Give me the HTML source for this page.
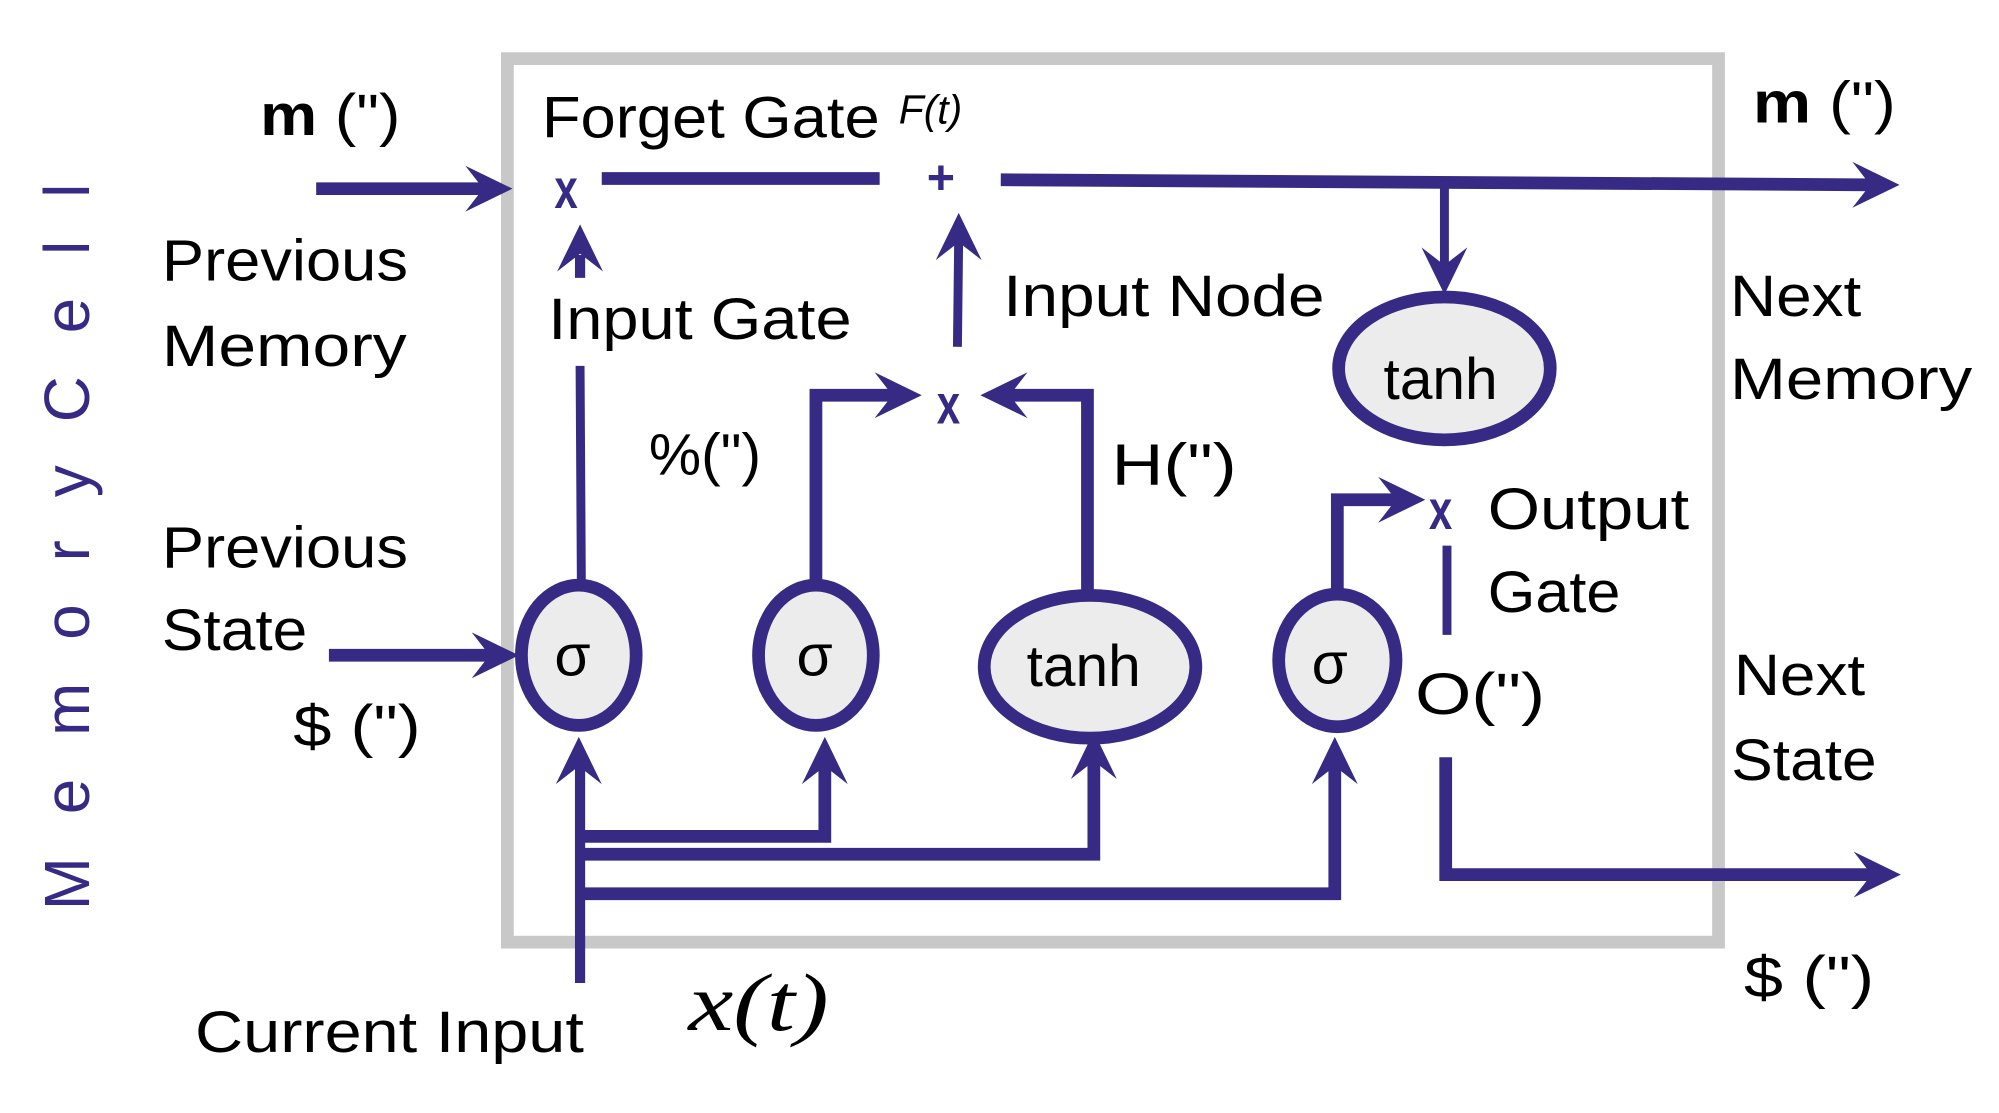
<!DOCTYPE html>
<html><head><meta charset="utf-8"><style>
html,body{margin:0;padding:0;background:#fff;}
svg{display:block;}
text{font-family:"Liberation Sans",sans-serif;fill:#000;}
</style></head><body>
<svg width="1999" height="1113" viewBox="0 0 1568 873" preserveAspectRatio="none" xmlns="http://www.w3.org/2000/svg">
<defs>
<path id="ah" d="M0,0 L-37,-18 L-23,0 L-37,18 Z" fill="#372a85"/>
</defs>
<rect width="1568" height="873" fill="#fff"/>
<rect x="398" y="46" width="950" height="693" fill="none" stroke="#c8c8c8" stroke-width="10"/>

<text transform="translate(70,714) rotate(-90)" font-size="50" style="fill:#372a85" textLength="570" lengthAdjust="spacing">M e m o r y   C e l l</text>

<g stroke="#372a85" fill="none" stroke-width="10">
<line x1="248" y1="148" x2="385" y2="148"/>
<line x1="472" y1="140" x2="690" y2="140"/>
<line x1="785" y1="141" x2="1470" y2="145"/>
<line x1="1133" y1="143" x2="1133" y2="210" stroke-width="7"/>
<line x1="455" y1="200" x2="455" y2="218" stroke-width="8"/>
<line x1="455" y1="287" x2="456" y2="456" stroke-width="7"/>
<line x1="752" y1="185" x2="751" y2="272" stroke-width="7"/>
<polyline points="640,456 640,310 705,310"/>
<polyline points="853,465 853,310 788,310"/>
<polyline points="1049,462 1049,392 1100,392"/>
<line x1="1135" y1="428" x2="1135" y2="498" stroke-width="7"/>
<polyline points="1134,594 1134,686 1470,686"/>
<line x1="258" y1="514" x2="390" y2="514"/>
<line x1="455" y1="771" x2="455" y2="600" stroke-width="8"/>
<polyline points="455,656 647,656 647,595"/>
<polyline points="455,670 858,670 858,595"/>
<polyline points="455,701 1047,701 1047,595"/>
</g>

<use href="#ah" transform="translate(402,148)"/>
<use href="#ah" transform="translate(1490,145)"/>
<use href="#ah" transform="translate(1133,231) rotate(90)"/>
<use href="#ah" transform="translate(455,176) rotate(-90)"/>
<use href="#ah" transform="translate(752,167) rotate(-90)"/>
<use href="#ah" transform="translate(723,310)"/>
<use href="#ah" transform="translate(769,310) rotate(180)"/>
<use href="#ah" transform="translate(1118,392)"/>
<use href="#ah" transform="translate(1491,686)"/>
<use href="#ah" transform="translate(407,514)"/>
<use href="#ah" transform="translate(454,578) rotate(-90)"/>
<use href="#ah" transform="translate(647,578) rotate(-90)"/>
<use href="#ah" transform="translate(858,574) rotate(-90)"/>
<use href="#ah" transform="translate(1047,578) rotate(-90)"/>

<g stroke="#372a85" stroke-width="10" fill="#ececec">
<ellipse cx="1133" cy="289" rx="83" ry="56"/>
<ellipse cx="454" cy="514" rx="45" ry="55"/>
<ellipse cx="640" cy="514" rx="45" ry="55"/>
<ellipse cx="855" cy="523" rx="83" ry="56"/>
<ellipse cx="1049" cy="518" rx="46" ry="52"/>
</g>
<g font-size="46" text-anchor="middle">
<text x="1130" y="313">tanh</text>
<text x="449" y="530">σ</text>
<text x="639" y="530">σ</text>
<text x="850" y="538">tanh</text>
<text x="1043" y="536">σ</text>
</g>

<g font-size="44" font-weight="bold" text-anchor="middle">
<text transform="translate(444,163) scale(0.75,1)" style="fill:#372a85">x</text>
<text transform="translate(738,152)" font-size="38" style="fill:#372a85">+</text>
<text transform="translate(744,332) scale(0.75,1)" style="fill:#372a85">x</text>
<text transform="translate(1130,415) scale(0.75,1)" style="fill:#372a85">x</text>
</g>

<g font-size="46">
<text x="204" y="106" textLength="110" lengthAdjust="spacingAndGlyphs"><tspan font-weight="bold">m</tspan> (")</text>
<text x="1375" y="96" textLength="112" lengthAdjust="spacingAndGlyphs"><tspan font-weight="bold">m</tspan> (")</text>
<text x="425" y="108" textLength="265" lengthAdjust="spacingAndGlyphs">Forget Gate</text>
<text x="705" y="97" font-size="32" font-style="italic">F(t)</text>
<text x="127" y="220" textLength="193" lengthAdjust="spacingAndGlyphs">Previous</text>
<text x="127" y="287" textLength="192" lengthAdjust="spacingAndGlyphs">Memory</text>
<text x="430" y="266" textLength="238" lengthAdjust="spacingAndGlyphs">Input Gate</text>
<text x="787" y="248" textLength="252" lengthAdjust="spacingAndGlyphs">Input Node</text>
<text x="1357" y="248" textLength="103" lengthAdjust="spacingAndGlyphs">Next</text>
<text x="1357" y="313" textLength="190" lengthAdjust="spacingAndGlyphs">Memory</text>
<text x="509" y="372" textLength="88" lengthAdjust="spacingAndGlyphs">%(")</text>
<text x="872" y="380" textLength="98" lengthAdjust="spacingAndGlyphs">H(")</text>
<text x="1167" y="415" textLength="158" lengthAdjust="spacingAndGlyphs">Output</text>
<text x="1167" y="480" textLength="104" lengthAdjust="spacingAndGlyphs">Gate</text>
<text x="127" y="445" textLength="193" lengthAdjust="spacingAndGlyphs">Previous</text>
<text x="127" y="510" textLength="114" lengthAdjust="spacingAndGlyphs">State</text>
<text x="230" y="585" textLength="100" lengthAdjust="spacingAndGlyphs">$ (")</text>
<text x="1110" y="560" textLength="102" lengthAdjust="spacingAndGlyphs">O(")</text>
<text x="1360" y="545" textLength="103" lengthAdjust="spacingAndGlyphs">Next</text>
<text x="1358" y="612" textLength="114" lengthAdjust="spacingAndGlyphs">State</text>
<text x="1368" y="782" textLength="102" lengthAdjust="spacingAndGlyphs">$ (")</text>
<text x="153" y="825" textLength="305" lengthAdjust="spacingAndGlyphs">Current Input</text>
<text x="540" y="808" font-size="64" font-style="italic" style="font-family:'Liberation Serif',serif;" textLength="110" lengthAdjust="spacingAndGlyphs">x(t)</text>
</g>
</svg>
</body></html>
